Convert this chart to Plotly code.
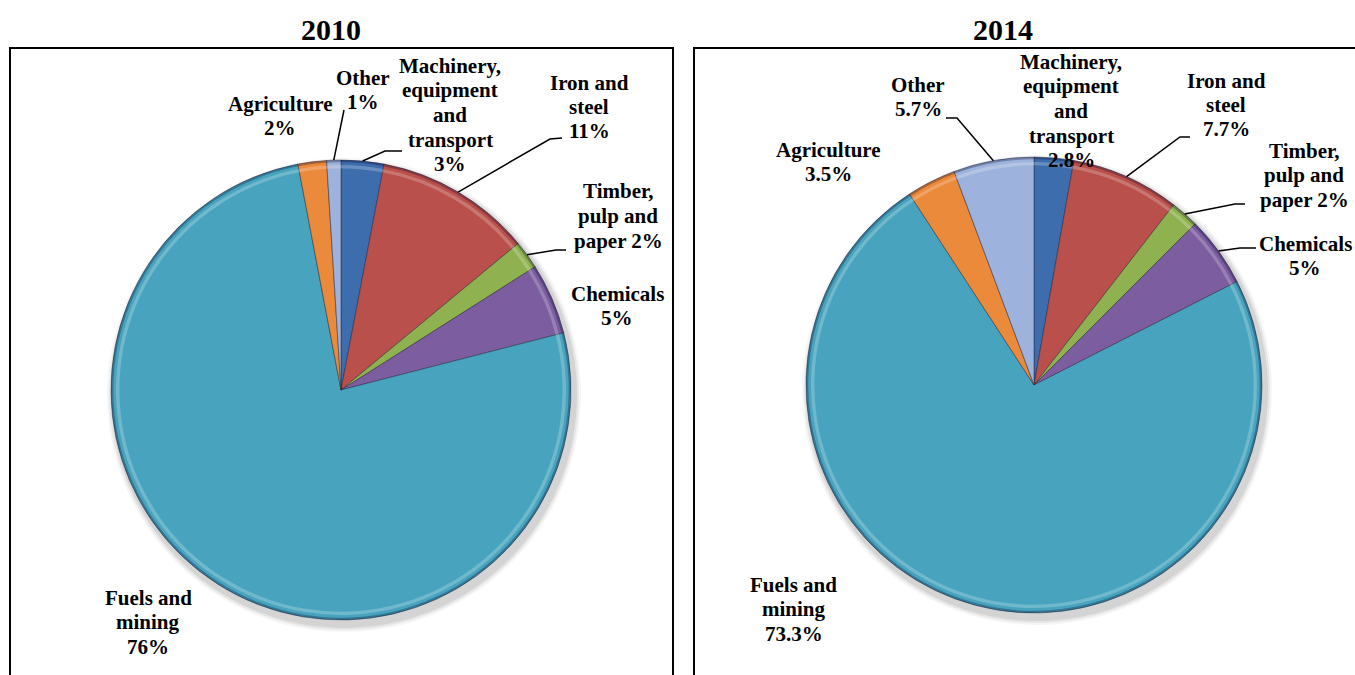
import math
import plotly.graph_objects as go

# ---- data -------------------------------------------------------------
categories = ["Machinery, equipment and transport", "Iron and steel",
              "Timber, pulp and paper", "Chemicals", "Fuels and mining",
              "Agriculture", "Other"]
# how each category name is broken across lines in its label
label_lines = [["Machinery,", "equipment", "and", "transport"],
               ["Iron and", "steel"],
               ["Timber,", "pulp and", "paper"],
               ["Chemicals"],
               ["Fuels and", "mining"],
               ["Agriculture"],
               ["Other"]]
# whether the percentage sits on the last name line or below it
value_inline = [False, False, True, False, False, False, False]

years = ["2010", "2014"]
shares_2010 = [3, 11, 2, 5, 76, 2, 1]
shares_2014 = [2.8, 7.7, 2, 5, 73.3, 3.5, 5.7]

colors = ["#3E6DAD", "#B9504B", "#8FB150", "#7B5DA0", "#48A4BE",
          "#EC8A3B", "#9DB2DC"]

# ---- layout constants (pixels) ---------------------------------------
W, H = 1355, 675
FONT = "Liberation Serif"
LABEL_SIZE = 21
LINE_STEP = 24.5
pie_center = [(341, 390), (1034, 385)]
pie_radius = [230, 228]
title_pos = [(331, 29), (1003, 29)]
boxes = [(10, 48, 673, 690), (694, 48, 1370, 690)]

label_pos = {
    "2010": [(450, 115), (589, 107), (618, 216), (617, 306), (148, 622),
             (280, 116), (363, 90)],
    "2014": [(1071, 111), (1226, 105), (1304, 175), (1305, 256), (794, 609),
             (828, 162), (918, 97)],
}
# leader line elbow and end point (None = no leader)
leaders = {
    "2010": [[(385, 151), (402, 151)], [(550, 139), (562, 138)],
             [(556, 250), (566, 250)], None, None, None,
             [(344, 110)]],
    "2014": [None, [(1180, 137), (1190, 137)], [(1235, 204), (1245, 204)],
             [(1240, 248), (1256, 248)], None, None,
             [(957, 118), (946, 118)]],
}


def px(x):
    return x / W


def py(y):
    return 1 - y / H


def ring(values, cx, cy, radius, hole, rgba):
    """Thin translucent ring drawn over the pie for a bevelled edge."""
    return go.Pie(
        labels=categories, values=values, sort=False,
        direction="clockwise", rotation=0, hole=hole,
        marker=dict(colors=[rgba] * len(values), line=dict(width=0)),
        textinfo="none", hoverinfo="skip", showlegend=False,
        domain=dict(x=[px(cx - radius), px(cx + radius)],
                    y=[py(cy + radius), py(cy - radius)]))


fig = go.Figure()
shapes = []
annotations = []

for i, (year, shares) in enumerate(zip(years, [shares_2010, shares_2014])):
    cx, cy = pie_center[i]
    r = pie_radius[i]

    # soft drop shadow under the pie
    for grow, alpha in [(7, 0.04), (5, 0.06), (3, 0.08)]:
        shapes.append(dict(
            type="circle", xref="paper", yref="paper", layer="below",
            x0=px(cx - r - grow + 3), x1=px(cx + r + grow + 3),
            y0=py(cy + r + grow + 5), y1=py(cy - r - grow + 5),
            fillcolor=f"rgba(0,0,0,{alpha})", line=dict(width=0)))

    fig.add_trace(go.Pie(
        labels=categories, values=shares, sort=False,
        direction="clockwise", rotation=0,
        marker=dict(colors=colors,
                    line=dict(color="rgba(30,30,50,0.45)", width=1)),
        textinfo="none", hoverinfo="label+percent", showlegend=False,
        domain=dict(x=[px(cx - r), px(cx + r)], y=[py(cy + r), py(cy - r)]),
    ))

    # darker outer rim and a light highlight band just inside it
    fig.add_trace(ring(shares, cx, cy, r, 0.99, "rgba(0,0,40,0.28)"))
    fig.add_trace(ring(shares, cx, cy, r - 5, 0.985, "rgba(255,255,255,0.22)"))

    # year title
    tx, ty = title_pos[i]
    annotations.append(dict(
        x=px(tx), y=py(ty), xref="paper", yref="paper", showarrow=False,
        text=f"<b>{year}</b>", font=dict(family=FONT, size=30, color="black"),
        xanchor="center", yanchor="middle"))

    # frame around each panel
    x0, y0, x1, y1 = boxes[i]
    shapes.append(dict(type="rect", xref="paper", yref="paper",
                       x0=px(x0), x1=px(x1), y0=py(y1), y1=py(y0),
                       line=dict(color="black", width=2),
                       fillcolor="rgba(0,0,0,0)", layer="below"))

    total = sum(shares)
    cum = 0.0
    for j, v in enumerate(shares):
        mid = math.radians((cum + v / 2) / total * 360)
        cum += v

        # category label with its share, one text line per annotation
        lines = list(label_lines[j])
        if value_inline[j]:
            lines[-1] = f"{lines[-1]} {v:g}%"
        else:
            lines.append(f"{v:g}%")
        lx, ly = label_pos[year][j]
        n = len(lines)
        for k, line in enumerate(lines):
            yk = ly + (k - (n - 1) / 2) * LINE_STEP
            annotations.append(dict(
                x=px(lx), y=py(yk), xref="paper", yref="paper",
                showarrow=False, text=f"<b>{line}</b>",
                font=dict(family=FONT, size=LABEL_SIZE, color="black"),
                xanchor="center", yanchor="middle"))

        # leader line from the slice edge to the label
        pts = leaders[year][j]
        if pts:
            sx = cx + r * math.sin(mid)
            sy = cy - r * math.cos(mid)
            path_pts = [(sx, sy)] + pts
            d = "M " + " L ".join(f"{px(a)},{py(b)}" for a, b in path_pts)
            shapes.append(dict(type="path", xref="paper", yref="paper",
                               path=d, line=dict(color="black", width=1.5)))

fig.update_layout(
    width=W, height=H,
    margin=dict(l=0, r=0, t=0, b=0),
    paper_bgcolor="white", plot_bgcolor="white",
    font=dict(family=FONT),
    shapes=shapes, annotations=annotations,
)

fig.write_html("out.html")
